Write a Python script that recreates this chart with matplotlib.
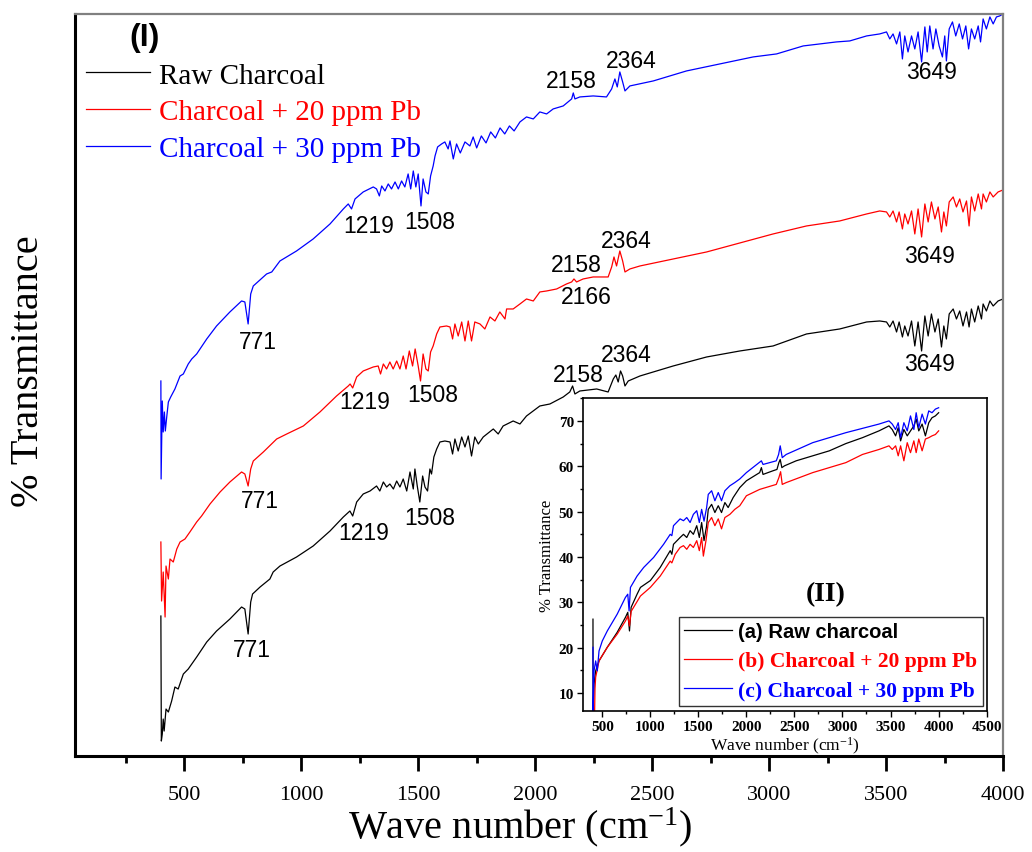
import matplotlib
matplotlib.use("Agg")
import matplotlib.pyplot as plt
from matplotlib.ticker import MultipleLocator

SERIF = "Liberation Serif"
SANS = "Liberation Sans"

plt.rcParams["mathtext.fontset"] = "custom"
plt.rcParams["mathtext.rm"] = SERIF
plt.rcParams["mathtext.it"] = SERIF + ":italic"

# ---- main panel (I): stacked spectra, arbitrary units -------------------
raw_main = [
    (400, 14.0), (402, 1.5), (406, 2.2), (410, 3.7), (414, 2.5), (422, 4.7),
    (432, 4.4), (446, 5.5), (460, 6.9), (474, 6.7), (496, 8.2), (517, 8.7),
    (532, 9.2), (553, 9.9), (596, 11.4), (638, 12.5), (695, 13.7), (745, 14.9),
    (759, 14.7), (773, 12.2), (784, 15.4), (792, 16.2), (824, 16.9), (866, 17.7),
    (880, 18.4), (909, 19.0), (980, 19.9), (1051, 21.0), (1123, 22.5),
    (1180, 23.9), (1208, 24.5), (1220, 24.0), (1237, 25.4), (1265, 26.2),
    (1294, 26.5), (1322, 27.0), (1336, 26.5), (1351, 27.4), (1365, 26.9),
    (1379, 27.2), (1394, 26.7), (1408, 27.5), (1422, 26.9), (1436, 27.7),
    (1451, 26.5), (1465, 28.4), (1479, 26.7), (1486, 28.7), (1496, 27.0),
    (1507, 25.4), (1519, 28.0), (1529, 26.9), (1540, 26.5), (1550, 28.7),
    (1557, 28.2), (1567, 29.9), (1579, 30.7), (1593, 31.4), (1614, 31.5),
    (1636, 31.4), (1647, 30.2), (1657, 31.7), (1671, 30.5), (1686, 31.9),
    (1700, 30.9), (1714, 32.0), (1728, 30.0), (1742, 31.9), (1757, 31.2),
    (1778, 31.9), (1821, 32.7), (1842, 32.2), (1863, 33.0), (1906, 33.5),
    (1935, 33.2), (1963, 34.0), (2020, 35.0), (2063, 35.2), (2120, 35.9),
    (2148, 36.4), (2160, 37.0), (2170, 36.2), (2191, 36.5), (2263, 36.7),
    (2312, 36.4), (2334, 37.7), (2345, 38.1), (2355, 37.4), (2365, 38.5),
    (2374, 38.0), (2384, 37.0), (2398, 37.5), (2448, 38.0), (2590, 39.0),
    (2733, 39.9), (2875, 40.5), (3017, 41.0), (3160, 42.2), (3302, 42.7),
    (3417, 43.4), (3473, 43.5), (3502, 43.4), (3516, 42.9), (3530, 43.5),
    (3545, 42.4), (3556, 43.4), (3570, 41.9), (3580, 43.0), (3594, 42.0),
    (3609, 43.5), (3623, 41.0), (3637, 43.4), (3652, 40.5), (3666, 44.0),
    (3680, 42.0), (3694, 44.2), (3709, 42.4), (3723, 43.7), (3737, 40.9),
    (3747, 43.0), (3758, 41.7), (3770, 44.2), (3787, 44.7), (3801, 43.7),
    (3815, 44.5), (3829, 43.0), (3844, 44.4), (3855, 42.9), (3865, 44.7),
    (3879, 43.4), (3894, 45.0), (3908, 43.7), (3915, 45.2), (3929, 44.5),
    (3944, 45.5), (3958, 45.0), (3979, 45.5), (4000, 45.7),
]

pb20_main = [
    (400, 21.4), (403, 15.5), (410, 18.4), (418, 13.9), (422, 19.0), (432, 17.7),
    (439, 19.7), (453, 19.4), (468, 20.7), (482, 21.4), (503, 21.7), (524, 22.4),
    (553, 23.4), (574, 24.0), (610, 25.2), (653, 26.4), (695, 27.4), (745, 28.4),
    (759, 28.2), (773, 27.0), (784, 28.7), (795, 29.5), (838, 30.4), (895, 31.7),
    (938, 32.2), (1009, 33.0), (1080, 34.4), (1151, 36.0), (1201, 37.0),
    (1209, 37.2), (1220, 36.8), (1237, 37.9), (1265, 38.5), (1308, 38.9),
    (1329, 39.0), (1339, 38.2), (1351, 39.2), (1365, 38.7), (1379, 39.4),
    (1393, 38.7), (1408, 39.5), (1422, 38.7), (1436, 40.0), (1448, 38.7),
    (1462, 40.5), (1476, 39.0), (1487, 40.7), (1500, 39.0), (1510, 37.5),
    (1521, 40.2), (1533, 38.7), (1543, 38.5), (1553, 40.4), (1564, 41.0),
    (1579, 42.2), (1593, 42.9), (1621, 43.0), (1636, 42.9), (1647, 41.7),
    (1657, 43.2), (1671, 42.0), (1686, 43.4), (1700, 41.5), (1714, 43.5),
    (1728, 41.5), (1742, 43.4), (1764, 43.2), (1785, 42.7), (1807, 43.9),
    (1828, 43.5), (1849, 44.4), (1871, 43.7), (1878, 44.7), (1906, 44.7),
    (1935, 45.2), (1963, 45.7), (1992, 45.5), (2020, 46.4), (2049, 46.5),
    (2092, 46.7), (2134, 47.2), (2156, 47.4), (2166, 47.7), (2177, 47.4),
    (2205, 47.7), (2248, 47.9), (2312, 47.9), (2327, 48.9), (2337, 49.9),
    (2348, 49.0), (2362, 50.5), (2374, 49.5), (2384, 48.4), (2405, 48.7),
    (2448, 49.0), (2590, 49.7), (2733, 50.4), (2875, 51.3), (3017, 52.2),
    (3160, 53.0), (3302, 53.5), (3417, 54.2), (3473, 54.5), (3502, 54.4),
    (3516, 53.9), (3530, 54.5), (3545, 53.4), (3556, 54.4), (3570, 52.7),
    (3580, 54.2), (3594, 53.2), (3609, 54.5), (3623, 52.2), (3637, 54.7),
    (3652, 51.9), (3666, 55.2), (3680, 53.4), (3694, 55.4), (3709, 53.7),
    (3723, 54.9), (3737, 52.4), (3747, 54.4), (3758, 53.0), (3770, 55.4),
    (3787, 55.9), (3801, 54.9), (3815, 55.7), (3829, 54.4), (3844, 55.5),
    (3855, 53.0), (3865, 55.9), (3879, 54.5), (3894, 56.2), (3908, 54.7),
    (3915, 56.2), (3929, 55.4), (3944, 56.4), (3958, 55.9), (3979, 56.4),
    (4000, 56.6),
]

pb30_main = [
    (400, 37.5), (401, 27.7), (406, 35.5), (410, 32.4), (415, 34.4), (419, 32.5),
    (425, 33.9), (432, 35.4), (442, 35.9), (460, 36.7), (482, 38.0), (496, 38.2),
    (517, 39.2), (532, 39.7), (553, 40.2), (596, 41.7), (638, 43.0), (695, 44.4),
    (745, 45.5), (759, 45.4), (773, 43.2), (784, 46.2), (795, 47.0), (852, 48.2),
    (874, 48.4), (909, 49.5), (980, 50.5), (1051, 51.7), (1123, 53.2),
    (1180, 54.7), (1201, 55.2), (1215, 54.7), (1230, 55.7), (1265, 56.4),
    (1308, 56.9), (1322, 56.7), (1334, 56.0), (1344, 57.0), (1358, 56.5),
    (1372, 57.2), (1386, 56.7), (1401, 57.4), (1415, 56.7), (1429, 57.5),
    (1443, 56.9), (1457, 58.2), (1468, 56.7), (1479, 58.5), (1490, 56.9),
    (1500, 58.2), (1512, 55.0), (1521, 57.7), (1533, 56.4), (1543, 56.2),
    (1553, 58.0), (1564, 59.0), (1572, 60.0), (1583, 60.9), (1600, 61.2),
    (1614, 61.4), (1628, 60.7), (1636, 61.5), (1650, 59.7), (1664, 61.2),
    (1680, 60.3), (1700, 61.4), (1721, 61.0), (1735, 61.9), (1750, 60.8),
    (1770, 62.0), (1790, 61.3), (1810, 62.4), (1830, 61.8), (1850, 62.8),
    (1870, 62.2), (1890, 63.0), (1910, 62.5), (1935, 63.4), (1963, 63.9),
    (1992, 63.7), (2020, 64.4), (2049, 64.2), (2077, 64.7), (2120, 65.0),
    (2156, 65.7), (2163, 66.3), (2170, 65.7), (2191, 65.9), (2248, 66.0),
    (2305, 65.9), (2327, 66.7), (2341, 67.7), (2351, 66.9), (2362, 68.4),
    (2374, 67.4), (2384, 66.5), (2405, 67.0), (2505, 67.5), (2647, 68.5),
    (2790, 69.2), (2932, 69.9), (3032, 70.2), (3146, 71.0), (3288, 71.4),
    (3345, 71.5), (3417, 72.0), (3473, 72.2), (3502, 72.4), (3516, 71.7),
    (3530, 72.2), (3545, 71.2), (3559, 72.4), (3570, 69.7), (3580, 72.0),
    (3594, 70.4), (3609, 72.0), (3623, 70.7), (3637, 72.4), (3652, 69.4),
    (3666, 72.9), (3676, 70.4), (3687, 73.0), (3701, 70.7), (3713, 72.7),
    (3727, 71.0), (3741, 69.9), (3751, 72.0), (3758, 69.5), (3770, 72.7),
    (3784, 73.4), (3798, 72.0), (3813, 73.2), (3827, 71.7), (3841, 73.0),
    (3853, 70.7), (3865, 72.7), (3879, 71.7), (3894, 73.0), (3904, 71.4),
    (3915, 73.7), (3929, 72.7), (3944, 73.9), (3958, 73.2), (3972, 73.9),
    (3986, 74.0), (4000, 74.2),
]

# peak labels: (text, wavenumber position, height position)
raw_peaks = [("771", 788, 10.7), ("1219", 1265, 22.4), ("1508", 1550, 23.9),
             ("2158", 2184, 38.1), ("2364", 2391, 40.1), ("3649", 3687, 39.2)]
pb20_peaks = [("771", 823, 25.5), ("1219", 1272, 35.4), ("1508", 1564, 36.1),
              ("2158", 2177, 49.1), ("2166", 2220, 45.9), ("2364", 2388, 51.5),
              ("3649", 3687, 50.0)]
pb30_peaks = [("771", 815, 41.4), ("1219", 1287, 53.0), ("1508", 1550, 53.4),
              ("2158", 2156, 67.5), ("2364", 2409, 69.5), ("3649", 3694, 68.4)]

main_labels = ["Raw Charcoal", "Charcoal + 20 ppm Pb", "Charcoal + 30 ppm Pb"]

# ---- inset panel (II): % transmittance ----------------------------------
raw_inset = [
    (403, 26.3), (404, 6.0), (414, 12.0), (431, 14.9), (466, 17.1), (552, 20.1),
    (655, 23.4), (741, 26.7), (765, 27.8), (783, 23.7), (800, 28.9), (862, 31.8),
    (897, 33.3), (1000, 34.8), (1103, 37.7), (1207, 41.4), (1224, 40.6),
    (1241, 42.8), (1310, 44.3), (1345, 45.0), (1379, 44.3), (1414, 45.8),
    (1448, 45.0), (1483, 46.9), (1510, 44.3), (1534, 47.6), (1559, 43.6),
    (1586, 46.9), (1603, 50.5), (1638, 51.6), (1672, 49.8), (1707, 51.3),
    (1741, 49.8), (1776, 52.0), (1810, 50.9), (1862, 53.1), (1931, 55.3),
    (2000, 56.8), (2138, 58.6), (2156, 59.7), (2173, 58.2), (2276, 59.0),
    (2318, 59.3), (2338, 60.8), (2352, 61.5), (2369, 59.7), (2397, 60.1),
    (2518, 61.2), (2690, 62.3), (2863, 63.4), (3035, 65.0), (3208, 66.3),
    (3380, 67.8), (3484, 68.9), (3518, 68.1), (3553, 66.7), (3580, 68.5),
    (3605, 65.6), (3639, 68.1), (3674, 66.7), (3708, 67.8), (3743, 68.9),
    (3767, 70.4), (3794, 67.8), (3829, 69.3), (3863, 66.7), (3898, 69.6),
    (3932, 70.7), (3967, 71.1), (4001, 71.8),
]

pb20_inset = [
    (418, 3.0), (424, 11.0), (431, 13.5), (466, 17.1), (552, 20.1), (655, 23.0),
    (741, 25.9), (765, 27.0), (783, 24.8), (800, 28.0), (897, 31.4),
    (1000, 33.3), (1103, 35.8), (1207, 39.1), (1224, 38.7), (1259, 40.6),
    (1310, 42.1), (1345, 42.5), (1379, 41.7), (1414, 42.8), (1448, 42.1),
    (1483, 43.6), (1510, 41.4), (1534, 44.3), (1552, 40.2), (1579, 43.6),
    (1603, 47.6), (1638, 48.7), (1672, 46.9), (1707, 48.4), (1741, 46.2),
    (1776, 48.7), (1828, 49.4), (1879, 50.5), (1931, 51.3), (2000, 53.5),
    (2138, 54.9), (2311, 56.0), (2338, 57.5), (2356, 58.8), (2373, 56.0),
    (2414, 56.4), (2690, 58.6), (3035, 60.8), (3208, 62.6), (3380, 63.7),
    (3484, 64.5), (3518, 63.7), (3553, 64.5), (3580, 62.3), (3605, 64.5),
    (3639, 61.2), (3674, 65.2), (3708, 63.0), (3743, 65.6), (3767, 63.0),
    (3794, 66.0), (3829, 63.4), (3863, 66.0), (3898, 66.3), (3932, 66.7),
    (3967, 67.0), (4001, 67.8),
]

pb30_inset = [
    (403, 20.1), (404, 6.0), (414, 14.9), (431, 17.1), (448, 14.9), (466, 19.3),
    (500, 21.5), (552, 23.7), (655, 27.4), (741, 31.1), (765, 31.8), (779, 28.1),
    (793, 33.3), (862, 35.8), (931, 37.7), (1034, 39.9), (1138, 42.8),
    (1207, 45.0), (1224, 44.7), (1241, 46.9), (1310, 48.4), (1345, 48.0),
    (1379, 48.7), (1414, 47.6), (1448, 49.4), (1483, 50.2), (1510, 47.6),
    (1534, 50.5), (1559, 47.9), (1586, 50.9), (1603, 53.8), (1638, 54.6),
    (1672, 52.4), (1707, 54.2), (1741, 52.4), (1776, 54.6), (1828, 55.7),
    (1879, 56.4), (1931, 57.2), (2000, 58.6), (2156, 61.2), (2173, 60.4),
    (2311, 61.2), (2335, 62.6), (2352, 64.5), (2373, 61.9), (2414, 62.6),
    (2690, 65.2), (3035, 67.4), (3380, 69.3), (3484, 70.0), (3518, 69.3),
    (3553, 68.1), (3580, 69.6), (3605, 66.3), (3639, 69.6), (3674, 67.8),
    (3708, 71.1), (3743, 68.1), (3767, 71.8), (3794, 68.5), (3829, 71.5),
    (3863, 69.3), (3898, 72.2), (3932, 71.8), (3967, 72.6), (4001, 72.9),
]

inset_labels = ["(a) Raw charcoal", "(b) Charcoal + 20 ppm Pb", "(c) Charcoal + 30 ppm Pb"]

COLORS = ["black", "red", "blue"]


def unzip(pairs):
    return [p[0] for p in pairs], [p[1] for p in pairs]


fig = plt.figure(figsize=(10.32, 8.53), dpi=100)

# ---------------- panel (I) ----------------
ax = fig.add_axes([0.0727, 0.1125, 0.8992, 0.870])
lines = []
for series, color in zip([raw_main, pb20_main, pb30_main], COLORS):
    x, y = unzip(series)
    (ln,) = ax.plot(x, y, color=color, linewidth=0.9)
    lines.append(ln)

for peaks in [raw_peaks, pb20_peaks, pb30_peaks]:
    for txt, px, py in peaks:
        ax.text(px, py, txt, family=SANS, fontsize=16.5, ha="center", va="center")

ax.text(332, 71.9, "(I)", family=SANS, fontsize=23, fontweight="bold",
        ha="center", va="center")

ax.set_xlim(33, 4000)
ax.set_ylim(0, 74.2)
ax.set_yticks([])
ax.xaxis.set_minor_locator(MultipleLocator(250))
ax.set_xticks([500, 1000, 1500, 2000, 2500, 3000, 3500, 4000])
ax.set_xticklabels(["500", "1000", "1500", "2000", "2500", "3000", "3500", "4000"],
                   family=SERIF)
ax.tick_params(axis="x", which="major", direction="out", length=11, width=2,
               pad=10, labelsize=16)
ax.tick_params(axis="x", which="minor", direction="out", length=5, width=2)

for side in ["left", "bottom"]:
    ax.spines[side].set_linewidth(2.2)
    ax.spines[side].set_color("black")
for side in ["top", "right"]:
    ax.spines[side].set_linewidth(1.6)
    ax.spines[side].set_color("#808080")

ax.set_xlabel("Wave number (cm$^{\\mathregular{-1}}$)", family=SERIF, fontsize=29)
ax.xaxis.set_label_coords(0.48, -0.065)
ax.set_ylabel("% Transmittance", family=SERIF, fontsize=29)
ax.yaxis.set_label_coords(-0.03, 0.52)

leg = ax.legend(lines, main_labels, loc="upper left", bbox_to_anchor=(0.012, 0.935),
                frameon=False, prop={"family": SERIF, "size": 21},
                handlelength=2.2, handletextpad=0.3, labelspacing=0.36,
                borderaxespad=0, borderpad=0, labelcolor="linecolor")

# ---------------- panel (II) ----------------
ins = fig.add_axes([0.565, 0.165, 0.391, 0.367])
ins_lines = []
for series, color in zip([raw_inset, pb20_inset, pb30_inset], COLORS):
    x, y = unzip(series)
    (ln,) = ins.plot(x, y, color=color, linewidth=0.9)
    ins_lines.append(ln)

ins.set_xlim(300, 4500)
ins.set_ylim(6, 75)
ins.xaxis.set_minor_locator(MultipleLocator(250))
ins.yaxis.set_minor_locator(MultipleLocator(5))
ins.set_xticks([500, 1000, 1500, 2000, 2500, 3000, 3500, 4000, 4500])
ins.set_yticks([10, 20, 30, 40, 50, 60, 70])
ins.tick_params(which="major", direction="out", length=4.5, width=1, pad=2, labelsize=11)
ins.tick_params(which="minor", direction="out", length=2.5, width=1)
for lab in ins.get_xticklabels() + ins.get_yticklabels():
    lab.set_family(SERIF)
    lab.set_fontweight("bold")
for side in ins.spines:
    ins.spines[side].set_linewidth(1.2)

ins.set_xlabel("Wave number (cm$^{\\mathregular{-1}}$)", family=SERIF, fontsize=12.5,
               labelpad=1)
ins.set_ylabel("% Transmittance", family=SERIF, fontsize=12, labelpad=3)

ins.text(2821, 32.0, "(II)", family=SERIF, fontsize=20, fontweight="bold",
         ha="center", va="center")

ileg = ins.legend(ins_lines, inset_labels, loc="lower right", bbox_to_anchor=(0.99, 0.016),
                  frameon=True, fancybox=False, edgecolor="black",
                  prop={"family": SERIF, "size": 15.5, "weight": "bold"},
                  handlelength=2.2, handletextpad=0.3, labelspacing=0.45,
                  borderaxespad=0, borderpad=0.25, labelcolor="linecolor")
ileg.get_frame().set_linewidth(1.0)
ileg.get_texts()[0].set_family(SANS)
ileg.get_texts()[0].set_fontsize(14.5)

fig.savefig("out.png", dpi=100)
